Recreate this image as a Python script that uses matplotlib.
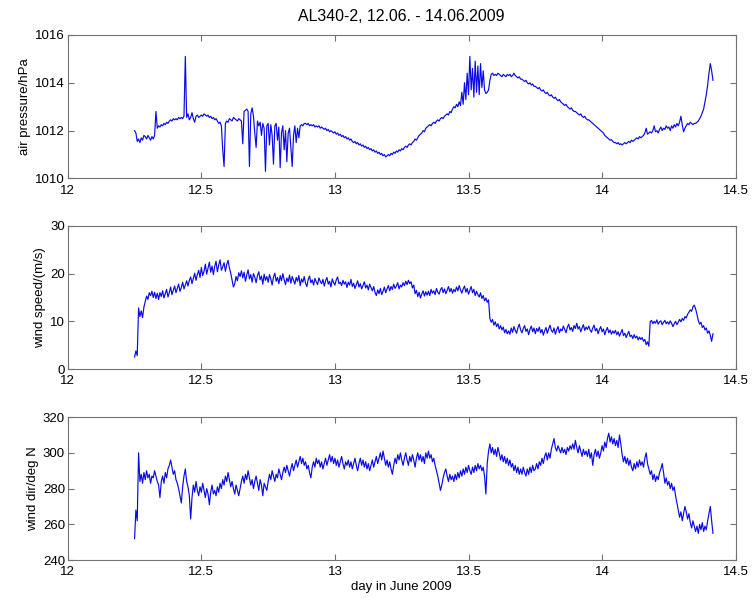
import matplotlib
matplotlib.use("Agg")
import numpy as np
import matplotlib.pyplot as plt

# sample times: one reading every 0.005 day, starting 12.25 (June 2009)
T0 = 12.25
DT = 0.005

pressure = [
    1012.0, 1011.9, 1011.55, 1011.65, 1011.5, 1011.7, 1011.6, 1011.8, 1011.75, 1011.65,
    1011.8, 1011.7, 1011.6, 1011.75, 1011.65, 1011.8, 1012.8, 1012.1, 1012.2, 1012.15,
    1012.25, 1012.2, 1012.3, 1012.25, 1012.35, 1012.3, 1012.4, 1012.45, 1012.4, 1012.5,
    1012.45, 1012.5, 1012.45, 1012.55, 1012.5, 1012.55, 1012.5, 1012.6, 1015.1, 1012.55,
    1012.7, 1012.45, 1012.55, 1012.75, 1012.5, 1012.35, 1012.6, 1012.65, 1012.55, 1012.6,
    1012.65, 1012.6, 1012.7, 1012.65, 1012.6, 1012.65, 1012.55, 1012.6, 1012.5, 1012.55,
    1012.45, 1012.5, 1012.4, 1012.3, 1012.35, 1012.2, 1011.2, 1010.5, 1012.3, 1012.4,
    1012.35, 1012.5, 1012.45, 1012.4, 1012.55, 1012.5, 1012.45, 1012.4, 1012.5, 1012.45,
    1012.4, 1011.45, 1012.8, 1012.85, 1012.9, 1012.8, 1010.5, 1012.7, 1012.95, 1012.6,
    1011.9, 1011.3, 1012.4, 1012.2, 1012.35, 1011.8, 1012.3, 1012.1, 1010.3, 1012.2,
    1012.3, 1011.4, 1012.25, 1011.8, 1010.6, 1012.2, 1012.3, 1011.6, 1012.15, 1010.45,
    1011.9, 1012.2, 1011.2, 1012.0, 1010.7, 1011.9, 1012.1, 1011.3, 1010.5, 1011.8,
    1012.2, 1011.5, 1012.1, 1011.7, 1012.2, 1012.25, 1012.2, 1012.3, 1012.3, 1012.25,
    1012.3, 1012.2, 1012.25, 1012.2, 1012.25, 1012.15, 1012.2, 1012.15, 1012.2, 1012.1,
    1012.15, 1012.1, 1012.05, 1012.1, 1012.0, 1012.05, 1011.95, 1012.0, 1011.95, 1011.9,
    1011.95, 1011.85, 1011.9, 1011.8, 1011.85, 1011.75, 1011.8, 1011.7, 1011.75, 1011.65,
    1011.7, 1011.6, 1011.65, 1011.55, 1011.5, 1011.55, 1011.45, 1011.5, 1011.4, 1011.45,
    1011.35, 1011.4, 1011.3, 1011.35, 1011.25, 1011.3, 1011.2, 1011.25, 1011.15, 1011.2,
    1011.1, 1011.15, 1011.05, 1011.1, 1011.0, 1011.05, 1010.95, 1011.0, 1010.9, 1010.95,
    1011.0, 1010.95, 1011.05, 1011.0, 1011.1, 1011.05, 1011.15, 1011.1, 1011.2, 1011.15,
    1011.25, 1011.2, 1011.3, 1011.35, 1011.3, 1011.4, 1011.45, 1011.4, 1011.5, 1011.55,
    1011.65, 1011.6, 1011.7, 1011.8, 1011.85, 1011.9, 1012.0, 1011.95, 1012.1, 1012.15,
    1012.2, 1012.25, 1012.2, 1012.3, 1012.35, 1012.3, 1012.4, 1012.45, 1012.4, 1012.5,
    1012.55, 1012.5, 1012.6, 1012.65, 1012.7, 1012.65, 1012.8, 1012.75, 1012.9, 1013.0,
    1012.95, 1013.1, 1013.0, 1013.2, 1013.05, 1013.6, 1013.1, 1014.0, 1013.3, 1014.4,
    1013.5, 1015.1, 1013.7, 1014.6, 1013.4, 1014.9, 1013.6, 1014.7, 1013.5, 1014.8,
    1013.8, 1014.5, 1013.7, 1013.55, 1013.6, 1013.7, 1014.1, 1014.35, 1014.4, 1014.3,
    1014.35, 1014.3, 1014.4, 1014.35, 1014.3, 1014.25, 1014.35, 1014.3, 1014.25, 1014.35,
    1014.3, 1014.35, 1014.25, 1014.3, 1014.4, 1014.3, 1014.25, 1014.2, 1014.25, 1014.15,
    1014.15, 1014.1, 1014.05, 1014.1, 1014.0, 1013.95, 1014.0, 1013.9, 1013.95, 1013.85,
    1013.85, 1013.8, 1013.75, 1013.8, 1013.7, 1013.65, 1013.7, 1013.6, 1013.55, 1013.6,
    1013.5, 1013.45, 1013.5, 1013.4, 1013.35, 1013.4, 1013.3, 1013.25, 1013.3, 1013.2,
    1013.15, 1013.1, 1013.05, 1013.1, 1013.0, 1012.95, 1012.9, 1012.95, 1012.85, 1012.8,
    1012.8, 1012.75, 1012.7, 1012.65, 1012.7, 1012.6, 1012.55, 1012.6, 1012.5, 1012.45,
    1012.45, 1012.4, 1012.35, 1012.3, 1012.25, 1012.2, 1012.15, 1012.1, 1012.05, 1012.0,
    1011.95, 1011.9, 1011.8, 1011.75, 1011.7, 1011.65, 1011.6, 1011.62, 1011.55, 1011.5,
    1011.5, 1011.45, 1011.5, 1011.42, 1011.45, 1011.4, 1011.45, 1011.5, 1011.45, 1011.5,
    1011.55, 1011.5, 1011.6, 1011.55, 1011.6, 1011.65, 1011.7, 1011.65, 1011.75, 1011.7,
    1011.75, 1011.8, 1011.9, 1012.1, 1011.85, 1011.9, 1011.95, 1011.9, 1012.0, 1012.2,
    1011.95, 1012.0, 1011.9, 1012.05, 1012.15, 1012.0, 1012.1, 1012.05, 1012.2, 1012.1,
    1012.15, 1012.0, 1012.2, 1012.1, 1012.25, 1012.15, 1012.3, 1012.2, 1012.35, 1012.6,
    1012.25, 1011.95, 1012.1, 1012.2, 1012.3, 1012.25, 1012.35, 1012.3, 1012.25, 1012.3,
    1012.3, 1012.35, 1012.4, 1012.5, 1012.6, 1012.75, 1012.9, 1013.2, 1013.5, 1013.9,
    1014.4, 1014.8, 1014.5, 1014.1,
]

wind_speed = [
    2.5, 3.8, 2.8, 12.8, 11.0, 12.2, 10.8, 13.0, 14.2, 15.3,
    14.6, 16.0, 15.4, 16.3, 15.0, 16.1, 14.8, 15.9, 14.6, 16.0,
    15.2, 16.4, 14.9, 15.8, 16.7, 15.1, 16.0, 17.2, 15.6, 16.5,
    17.4, 16.0, 16.9, 17.8, 16.3, 17.1, 18.2, 16.8, 17.6, 18.5,
    17.4, 18.6, 19.3, 17.9, 19.0, 20.1, 18.6, 19.8, 20.7, 19.2,
    21.3, 19.6, 20.5, 22.0, 19.9, 21.2, 22.4, 20.3, 21.6, 19.8,
    21.5, 22.6, 20.4, 21.8, 22.9, 20.7, 21.4, 22.3, 20.5, 21.9,
    22.8, 21.2, 20.1, 18.6, 17.2, 17.9, 19.4, 18.5, 20.2, 19.4,
    20.6, 19.1, 20.3, 18.4, 19.7, 20.8, 18.9, 19.8, 18.2, 20.0,
    19.3, 18.1, 19.6, 20.4, 18.7, 19.5, 17.8, 19.9, 18.6, 19.4,
    18.2, 19.8, 18.9, 17.6, 19.3, 20.1, 18.4, 19.2, 17.9, 19.6,
    18.5, 20.0, 18.7, 17.7, 19.1, 18.3, 19.7, 18.0, 19.4, 18.6,
    17.8, 19.2, 18.4, 19.6, 17.5, 18.9, 18.2, 19.4, 18.0, 17.3,
    18.8, 19.5, 18.1, 18.7, 17.6, 19.0, 18.3, 17.7, 19.1, 18.4,
    17.9, 18.8, 17.4, 18.5, 19.2, 17.8, 18.4, 17.2, 18.9, 18.1,
    17.6, 18.7, 19.3, 17.9, 18.2, 17.5, 18.6, 17.8, 18.3, 17.1,
    18.2, 17.6, 18.8, 17.3, 18.0, 16.9, 17.7, 18.5, 17.2, 17.9,
    16.8, 17.5, 18.3, 17.0, 17.6, 16.6, 17.8, 17.1, 16.4, 17.3,
    16.1, 15.4, 16.6, 15.8, 16.9, 15.6, 16.3, 17.2, 16.0, 16.8,
    17.5, 16.4, 17.3, 16.7, 17.8, 16.9, 17.4, 18.1, 16.8, 17.6,
    17.2, 18.1, 17.5, 18.4, 17.7, 18.6, 17.9, 18.3, 17.0, 17.6,
    15.8, 16.5, 15.2, 16.1, 14.9, 15.7, 16.4, 15.3, 16.2, 15.5,
    16.3, 15.4, 16.7, 15.9, 16.4, 15.6, 16.9, 16.1, 15.7, 16.6,
    17.1, 16.0, 16.8, 15.8, 16.5, 17.3, 16.2, 16.9, 15.9, 16.7,
    16.2, 17.2, 16.4, 17.5, 16.6, 15.9, 16.8, 17.4, 16.1, 16.9,
    15.7, 16.5, 17.3, 16.0, 16.7, 15.4, 16.3, 15.6, 15.1, 16.0,
    14.8, 15.4, 14.3, 14.9, 14.0, 14.5, 10.6, 9.8, 10.4, 9.2,
    9.9, 8.9, 9.5, 8.4, 9.1, 8.2, 8.8, 7.6, 8.3, 7.4,
    8.0, 7.3, 8.6, 7.7, 8.9, 8.1, 7.5, 8.7, 9.4, 8.2,
    7.6, 8.5, 9.1, 7.9, 8.4, 7.2, 8.3, 9.0, 7.8, 8.6,
    7.4, 8.5, 7.9, 8.8, 7.6, 8.3, 7.1, 8.0, 8.7, 7.5,
    8.4, 9.2, 8.1, 7.7, 8.6, 7.3, 8.2, 8.9, 7.6, 8.4,
    8.0, 9.0, 8.3, 7.6, 8.8, 9.4, 8.2, 8.7, 7.9, 9.1,
    8.5, 9.6, 8.4, 8.9, 7.8, 8.6, 9.3, 8.1, 8.8, 8.3,
    9.0, 8.2, 7.7, 8.6, 9.2, 8.0, 8.5, 7.4, 8.3, 8.9,
    7.8, 8.4, 7.2, 8.1, 8.7, 7.6, 8.2, 7.3, 8.0, 7.5,
    8.1, 7.2, 7.8, 6.9, 7.6, 8.3, 7.0, 7.5, 6.6, 7.3,
    7.9, 6.8, 7.1, 6.4, 7.2, 6.5, 6.9, 6.1, 6.7, 6.2,
    6.6, 5.8, 6.2, 5.1, 5.7, 4.8, 9.9, 10.2, 9.5, 10.0,
    9.6, 10.3, 9.4, 9.9, 10.1, 9.3, 9.8, 10.2, 9.5, 9.9,
    9.4, 10.1, 9.6, 8.9, 9.5, 10.0, 9.3, 9.8, 10.4, 9.9,
    10.6, 10.2, 11.0, 10.7, 11.5, 11.9, 12.4, 12.1, 13.0, 13.4,
    12.6, 11.5, 10.2, 9.4, 9.8, 8.7, 9.1, 8.2, 8.6, 7.5,
    8.0, 7.1, 5.8, 7.4,
]

wind_dir = [
    252, 268, 262, 300, 284, 288, 283, 289, 285, 290,
    286, 288, 283, 287, 286, 290, 287, 284, 282, 275,
    284, 287, 283, 289, 286, 291, 293, 296, 292, 288,
    290, 285, 283, 280, 276, 272, 281, 287, 291, 284,
    281, 276, 263, 275, 282, 278, 284, 279, 276, 281,
    278, 283, 279, 275, 280, 277, 271, 278, 282, 277,
    279, 276, 281, 278, 283, 280, 285, 282, 287, 284,
    289, 285, 281, 284, 280, 277, 282, 279, 276, 280,
    284, 287, 283, 288, 285, 290, 286, 282, 285, 280,
    284, 287, 283, 279, 285, 282, 276, 283, 281, 279,
    284, 288, 285, 290, 287, 284, 288, 286, 291, 288,
    285, 289, 292, 289, 293, 290, 287, 291, 294, 290,
    293, 296, 292, 295, 298, 294, 297, 293, 295, 291,
    293, 289, 286, 292, 295, 292, 297, 294, 296, 292,
    295, 291, 294, 297, 293, 296, 299, 295, 298, 294,
    297, 293, 296, 292, 295, 298, 294, 291, 295, 293,
    296, 292, 295, 291, 294, 297, 293, 290, 294, 297,
    293, 296, 292, 295, 291, 294, 290, 293, 296, 292,
    295, 298, 294, 297, 300, 296, 301, 297, 293, 296,
    292, 295, 291, 288, 293, 297, 294, 299, 296, 300,
    296, 293, 297, 300, 296, 293, 298, 295, 299, 296,
    292, 297, 300, 296, 299, 295, 298, 294, 300, 297,
    301, 297, 299, 295, 297, 293, 290, 287, 283, 279,
    282, 286, 289, 291, 287, 284, 288, 285, 287, 284,
    288, 285, 289, 286, 290, 287, 291, 288, 292, 289,
    293, 290, 288, 292, 289, 293, 290, 294, 291, 293,
    290, 292, 287, 277, 294, 301, 305, 300, 303, 299,
    302, 298, 303, 300, 296, 299, 295, 298, 294, 297,
    293, 296, 292, 294, 290, 293, 289, 292, 288, 291,
    288, 292, 289, 287, 291, 288, 292, 289, 293, 290,
    291, 294, 291, 295, 293, 297, 294, 298, 300, 296,
    300, 297, 302, 305, 308, 303, 301, 304, 302, 300,
    303, 300, 302, 299, 303, 301, 304, 302, 305, 302,
    307, 303, 300, 304, 301, 298, 302, 299, 301, 298,
    302, 297, 300, 293, 299, 302, 298, 301, 297, 300,
    304, 301, 306, 303, 308, 311, 306, 309, 305, 308,
    304, 307, 303, 310, 305, 299, 295, 298, 294, 297,
    293, 296, 292, 290, 294, 291, 295, 292, 296, 293,
    295, 292, 297, 300, 294, 291, 288, 290, 285, 288,
    284, 287, 285, 289, 291, 294, 289, 283, 286, 282,
    284, 280, 283, 279, 281, 276, 272, 268, 264, 267,
    262, 266, 270, 267, 263, 266, 261, 258, 262, 259,
    256, 259, 255, 260, 257, 261, 256, 259, 257, 262,
    266, 270, 262, 255,
]

panels = [
    (pressure, "air pressure/hPa", (1010, 1016), [1010, 1012, 1014, 1016]),
    (wind_speed, "wind speed/(m/s)", (0, 30), [0, 10, 20, 30]),
    (wind_dir, "wind dir/deg N", (240, 320), [240, 260, 280, 300, 320]),
]
xticks = [12, 12.5, 13, 13.5, 14, 14.5]
xticklabels = ["12", "12.5", "13", "13.5", "14", "14.5"]

plt.rcParams["font.family"] = ["Liberation Sans", "DejaVu Sans"]
plt.rcParams["font.size"] = 9.5

fig = plt.figure(figsize=(7.53, 6.01), dpi=100)
boxes = [(0.090, 0.703, 0.887, 0.239),
         (0.090, 0.386, 0.887, 0.238),
         (0.090, 0.068, 0.887, 0.238)]

axes = []
for (vals, label, ylim, yticks), box in zip(panels, boxes):
    ax = fig.add_axes(box)
    t = T0 + DT * np.arange(len(vals))
    ax.plot(t, vals, color="#0a0ae6", linewidth=0.85)
    ax.set_xlim(12, 14.5)
    ax.set_ylim(*ylim)
    ax.set_xticks(xticks)
    ax.set_xticklabels(xticklabels)
    ax.set_yticks(yticks)
    ax.set_ylabel(label, labelpad=3)
    ax.tick_params(direction="in", top=True, right=True, length=4,
                   color="0.45", labelcolor="black")
    ax.tick_params(axis="x", pad=4.5)
    ax.tick_params(axis="y", pad=2)
    for s in ax.spines.values():
        s.set_color("0.45")
        s.set_linewidth(0.8)
    axes.append(ax)

axes[0].set_title("AL340-2, 12.06. - 14.06.2009", pad=10)
axes[2].set_xlabel("day in June 2009", labelpad=2)

fig.savefig("out.png", dpi=100)
